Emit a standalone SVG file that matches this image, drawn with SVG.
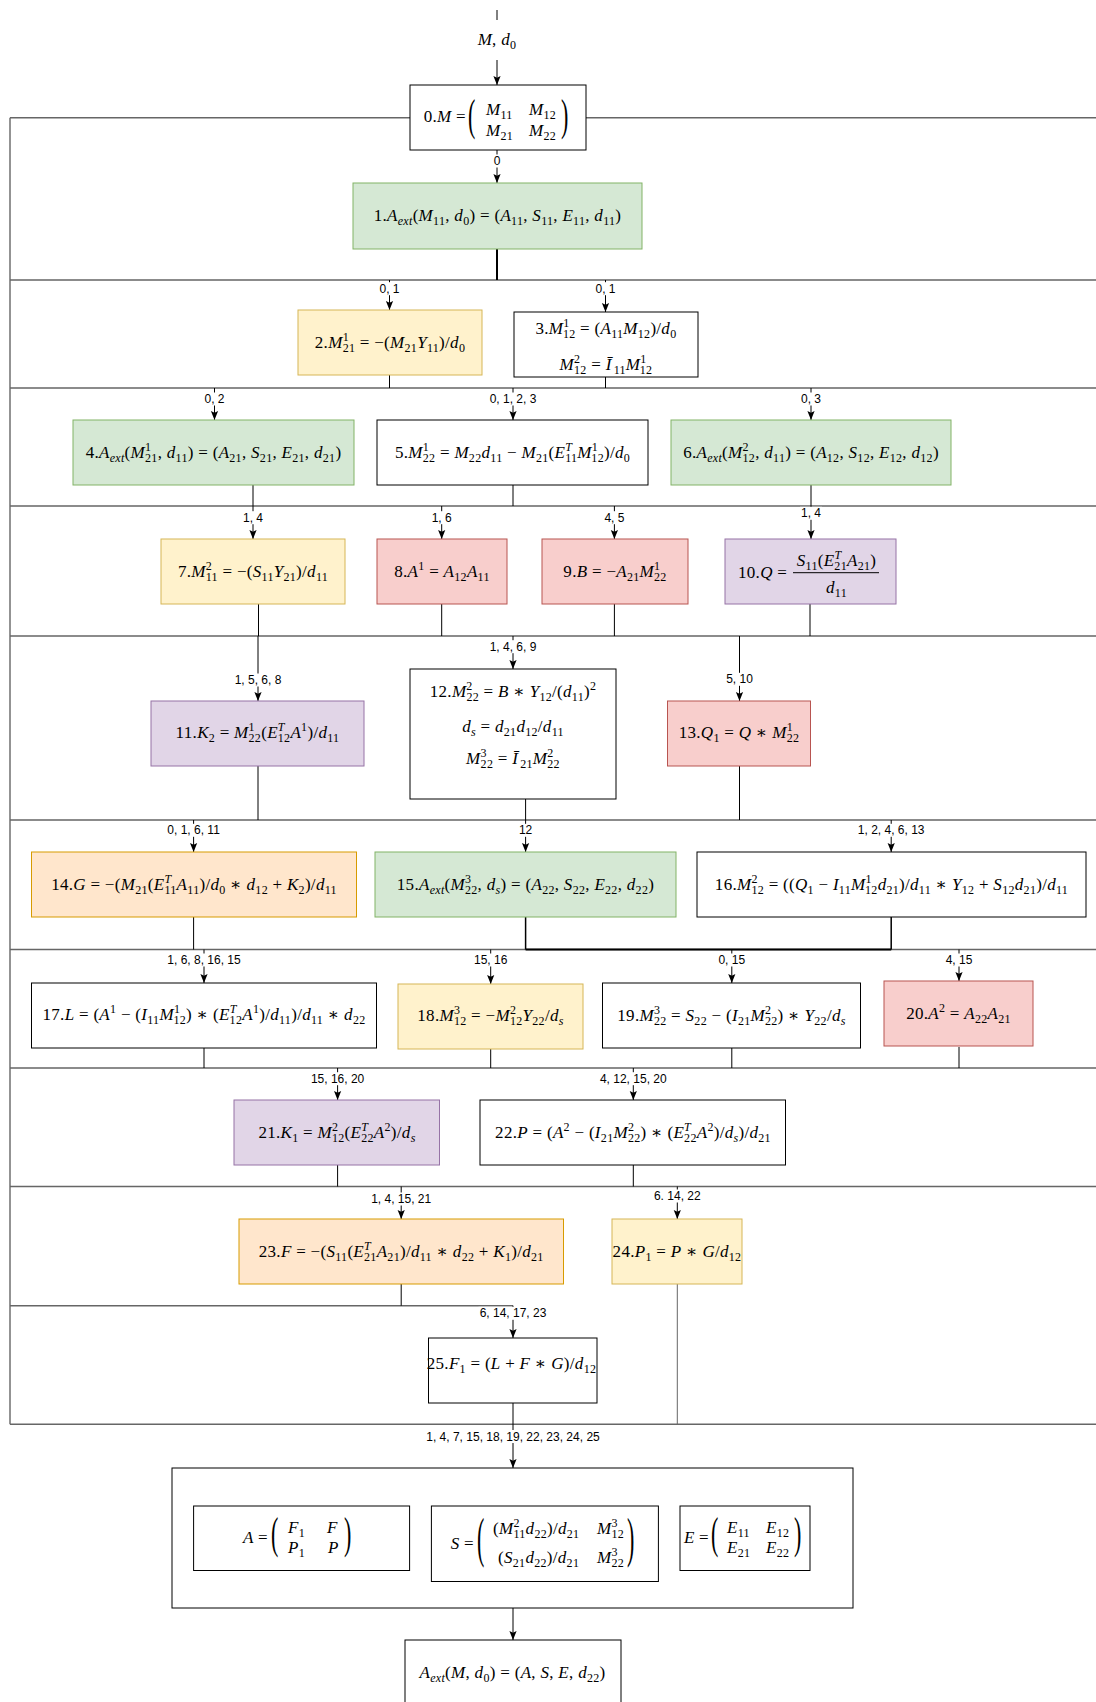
<svg xmlns="http://www.w3.org/2000/svg" width="1096" height="1702" viewBox="0 0 1096 1702">
<defs>
<style>
.m{font-family:"Liberation Serif","DejaVu Serif",serif;font-size:17px;text-anchor:middle;fill:#000;letter-spacing:0.3px}
.st{text-anchor:start}
.en{text-anchor:end}
.v{font-style:italic}
.s{font-size:12px;baseline-shift:-4px}
.p{font-size:12px;baseline-shift:7px}
.bp{font-family:"Liberation Serif",serif;font-size:22px;fill:#000}
.l{font-family:"Liberation Sans",Arial,sans-serif;font-size:12px;text-anchor:middle;fill:#000}
.lb{fill:#fff;stroke:none}
.row{fill:none;stroke:#666;stroke-width:1.4}
.c{fill:none;stroke:#000;stroke-width:1}
.ca{fill:none;stroke:#000;stroke-width:1;marker-end:url(#ah)}
.w{fill:#fff;stroke:#000}
.g{fill:#d5e8d4;stroke:#82b366}
.y{fill:#fff2cc;stroke:#d6b656}
.r{fill:#f8cecc;stroke:#b85450}
.pu{fill:#e1d5e7;stroke:#9673a6}
.o{fill:#ffe6cc;stroke:#d79b00}
</style>
<marker id="ah" viewBox="0 0 10 10" refX="10" refY="5" markerWidth="9" markerHeight="9" orient="auto" markerUnits="userSpaceOnUse">
<path d="M0,1 L10,5 L0,9 L2,5 z" fill="#000"/>
</marker>
</defs>
<rect width="1096" height="1702" fill="#fff"/>

<g id="rows" class="row">
<path d="M10,117.7 H1100 M10,117.7 V1424.3 M10,280 H1100 M10,388 H1100 M10,506 H1100 M10,636 H1100 M10,820 H1100 M10,949.5 H1100 M10,1068 H1100 M10,1186.5 H1100 M10,1305.7 H513 M10,1424.3 H1100"/>
</g>

<g id="connectors">
<path class="c" d="M497,10 V20 M389.5,375 V388 M605.5,377 V388 M253,485 V506 M513,485 V506 M811,485 V506 M258.5,604 V636 M441.7,604 V636 M614.4,604 V636 M810,604 V636 M258,766 V820 M525.6,798 V820 M739.5,766 V820 M193.6,917 V949.5 M204,1048 V1068 M490.7,1049 V1068 M731.8,1048 V1068 M959,1047 V1068 M337.6,1165 V1186.5 M633.3,1165 V1186.5 M401.2,1284 V1305.7"/>
<path class="c" style="stroke-width:2" d="M497,249 V280 M525.6,949.5 H891.2"/>
<path class="c" style="stroke-width:1.5" d="M525.6,917 V949.5 M891.2,917 V949.5"/>
<path class="c" style="stroke:#666" d="M677.3,1284 V1424.3"/>
<path class="ca" d="M497,60 V85"/>
<path class="ca" d="M497,150 V183"/>
<path class="ca" d="M389.5,280 V310"/>
<path class="ca" d="M605.5,280 V312"/>
<path class="ca" d="M214.5,388 V420"/>
<path class="ca" d="M513,388 V420"/>
<path class="ca" d="M811,388 V420"/>
<path class="ca" d="M253,506 V539"/>
<path class="ca" d="M441.7,506 V539"/>
<path class="ca" d="M614.4,506 V539"/>
<path class="ca" d="M811,506 V539"/>
<path class="ca" d="M258,636 V701"/>
<path class="ca" d="M513,636 V669"/>
<path class="ca" d="M739.5,636 V701"/>
<path class="ca" d="M193.6,820 V852"/>
<path class="ca" d="M525.6,820 V852"/>
<path class="ca" d="M891.2,820 V852"/>
<path class="ca" d="M204,949.5 V983"/>
<path class="ca" d="M490.7,949.5 V984"/>
<path class="ca" d="M731.8,949.5 V983"/>
<path class="ca" d="M959,949.5 V981"/>
<path class="ca" d="M337.6,1068 V1100"/>
<path class="ca" d="M633.3,1068 V1100"/>
<path class="ca" d="M401.2,1186.5 V1219"/>
<path class="ca" d="M677.3,1186.5 V1219"/>
<path class="ca" d="M513,1305.7 V1338"/>
<path class="ca" d="M513,1403 V1468"/>
<path class="ca" d="M513,1608 V1640"/>
</g>

<g id="edge-labels">
<text class="m" x="497" y="45"><tspan class="v">M</tspan>, <tspan class="v">d</tspan><tspan class="s">0</tspan></text>
<rect class="lb" x="492.5" y="154.5" width="9" height="13"/><text class="l" x="497" y="165">0</text>
<rect class="lb" x="378.5" y="282.2" width="22" height="13"/><text class="l" x="389.5" y="292.7">0, 1</text>
<rect class="lb" x="594.5" y="282.2" width="22" height="13"/><text class="l" x="605.5" y="292.7">0, 1</text>
<rect class="lb" x="203.5" y="392.5" width="22" height="13"/><text class="l" x="214.5" y="403">0, 2</text>
<rect class="lb" x="488.5" y="392.5" width="49" height="13"/><text class="l" x="513" y="403">0, 1, 2, 3</text>
<rect class="lb" x="800" y="392.5" width="22" height="13"/><text class="l" x="811" y="403">0, 3</text>
<rect class="lb" x="242" y="511.2" width="22" height="13"/><text class="l" x="253" y="521.7">1, 4</text>
<rect class="lb" x="430.7" y="511.2" width="22" height="13"/><text class="l" x="441.7" y="521.7">1, 6</text>
<rect class="lb" x="603.4" y="511.2" width="22" height="13"/><text class="l" x="614.4" y="521.7">4, 5</text>
<rect class="lb" x="800" y="506.8" width="22" height="13"/><text class="l" x="811" y="517.3">1, 4</text>
<rect class="lb" x="233.5" y="673.5" width="49" height="13"/><text class="l" x="258" y="684">1, 5, 6, 8</text>
<rect class="lb" x="488.5" y="640.2" width="49" height="13"/><text class="l" x="513" y="650.7">1, 4, 6, 9</text>
<rect class="lb" x="725" y="672.8" width="29" height="13"/><text class="l" x="739.5" y="683.3">5, 10</text>
<rect class="lb" x="165.6" y="823.8" width="56" height="13"/><text class="l" x="193.6" y="834.3">0, 1, 6, 11</text>
<rect class="lb" x="517.6" y="823.8" width="16" height="13"/><text class="l" x="525.6" y="834.3">12</text>
<rect class="lb" x="856.7" y="823.8" width="69" height="13"/><text class="l" x="891.2" y="834.3">1, 2, 4, 6, 13</text>
<rect class="lb" x="166" y="953.5" width="76" height="13"/><text class="l" x="204" y="964">1, 6, 8, 16, 15</text>
<rect class="lb" x="472.7" y="953.5" width="36" height="13"/><text class="l" x="490.7" y="964">15, 16</text>
<rect class="lb" x="717.3" y="953.5" width="29" height="13"/><text class="l" x="731.8" y="964">0, 15</text>
<rect class="lb" x="944.5" y="953.5" width="29" height="13"/><text class="l" x="959" y="964">4, 15</text>
<rect class="lb" x="309.6" y="1072.2" width="56" height="13"/><text class="l" x="337.6" y="1082.7">15, 16, 20</text>
<rect class="lb" x="598.8" y="1072.2" width="69" height="13"/><text class="l" x="633.3" y="1082.7">4, 12, 15, 20</text>
<rect class="lb" x="370.2" y="1192.5" width="62" height="13"/><text class="l" x="401.2" y="1203">1, 4, 15, 21</text>
<rect class="lb" x="652.8" y="1189.5" width="49" height="13"/><text class="l" x="677.3" y="1200">6. 14, 22</text>
<rect class="lb" x="478.5" y="1306.8" width="69" height="13"/><text class="l" x="513" y="1317.3">6, 14, 17, 23</text>
<rect class="lb" x="425" y="1430" width="176" height="13"/><text class="l" x="513" y="1440.5">1, 4, 7, 15, 18, 19, 22, 23, 24, 25</text>
</g>

<g id="n0">
<rect class="w" x="410" y="85" width="176" height="65"/>
<text class="m en" x="466" y="122">0.<tspan class="v">M</tspan> =</text>
<text class="bp" transform="translate(468,130.3) scale(1,2)">(</text>
<text class="m st" x="486" y="114.5"><tspan class="v">M</tspan><tspan class="s">11</tspan></text>
<text class="m st" x="529" y="114.5"><tspan class="v">M</tspan><tspan class="s">12</tspan></text>
<text class="m st" x="486" y="135.5"><tspan class="v">M</tspan><tspan class="s">21</tspan></text>
<text class="m st" x="529" y="135.5"><tspan class="v">M</tspan><tspan class="s">22</tspan></text>
<text class="bp" transform="translate(561,130.3) scale(1,2)">)</text>
</g>

<g id="n1">
<rect class="g" x="353" y="183" width="289" height="66"/>
<text class="m" x="497.5" y="221">1.<tspan class="v">A</tspan><tspan class="s v">ext</tspan>(<tspan class="v">M</tspan><tspan class="s">11</tspan>, <tspan class="v">d</tspan><tspan class="s">0</tspan>) = (<tspan class="v">A</tspan><tspan class="s">11</tspan>, <tspan class="v">S</tspan><tspan class="s">11</tspan>, <tspan class="v">E</tspan><tspan class="s">11</tspan>, <tspan class="v">d</tspan><tspan class="s">11</tspan>)</text>
</g>

<g id="n2">
<rect class="y" x="298" y="310" width="184" height="65"/>
<text class="m" x="390" y="347.5">2.<tspan class="v">M</tspan><tspan class="p">1</tspan><tspan class="s" dx="-6.3">21</tspan> = −(<tspan class="v">M</tspan><tspan class="s">21</tspan><tspan class="v">Y</tspan><tspan class="s">11</tspan>)/<tspan class="v">d</tspan><tspan class="s">0</tspan></text>
</g>

<g id="n3">
<rect class="w" x="514" y="312" width="184" height="65"/>
<text class="m" x="606" y="333.5">3.<tspan class="v">M</tspan><tspan class="p">1</tspan><tspan class="s" dx="-6.3">12</tspan> = (<tspan class="v">A</tspan><tspan class="s">11</tspan><tspan class="v">M</tspan><tspan class="s">12</tspan>)/<tspan class="v">d</tspan><tspan class="s">0</tspan></text>
<text class="m" x="606" y="370"><tspan class="v">M</tspan><tspan class="p">2</tspan><tspan class="s" dx="-6.3">12</tspan> = <tspan class="v">Ī</tspan><tspan class="s" dx="2">11</tspan><tspan class="v">M</tspan><tspan class="p">1</tspan><tspan class="s" dx="-6.3">12</tspan></text>
</g>

<g id="n4">
<rect class="g" x="73" y="420" width="281" height="65"/>
<text class="m" x="213.5" y="457.7">4.<tspan class="v">A</tspan><tspan class="s v">ext</tspan>(<tspan class="v">M</tspan><tspan class="p">1</tspan><tspan class="s" dx="-6.3">21</tspan>, <tspan class="v">d</tspan><tspan class="s">11</tspan>) = (<tspan class="v">A</tspan><tspan class="s">21</tspan>, <tspan class="v">S</tspan><tspan class="s">21</tspan>, <tspan class="v">E</tspan><tspan class="s">21</tspan>, <tspan class="v">d</tspan><tspan class="s">21</tspan>)</text>
</g>

<g id="n5">
<rect class="w" x="377" y="420" width="271" height="65"/>
<text class="m" x="512.5" y="457.7">5.<tspan class="v">M</tspan><tspan class="p">1</tspan><tspan class="s" dx="-6.3">22</tspan> = <tspan class="v">M</tspan><tspan class="s">22</tspan><tspan class="v">d</tspan><tspan class="s">11</tspan> − <tspan class="v">M</tspan><tspan class="s">21</tspan>(<tspan class="v">E</tspan><tspan class="p v">T</tspan><tspan class="s" dx="-7">11</tspan><tspan class="v">M</tspan><tspan class="p">1</tspan><tspan class="s" dx="-6.3">12</tspan>)/<tspan class="v">d</tspan><tspan class="s">0</tspan></text>
</g>

<g id="n6">
<rect class="g" x="671" y="420" width="280" height="65"/>
<text class="m" x="811" y="457.7">6.<tspan class="v">A</tspan><tspan class="s v">ext</tspan>(<tspan class="v">M</tspan><tspan class="p">2</tspan><tspan class="s" dx="-6.3">12</tspan>, <tspan class="v">d</tspan><tspan class="s">11</tspan>) = (<tspan class="v">A</tspan><tspan class="s">12</tspan>, <tspan class="v">S</tspan><tspan class="s">12</tspan>, <tspan class="v">E</tspan><tspan class="s">12</tspan>, <tspan class="v">d</tspan><tspan class="s">12</tspan>)</text>
</g>

<g id="n7">
<rect class="y" x="161" y="539" width="184" height="65"/>
<text class="m" x="253" y="576.7">7.<tspan class="v">M</tspan><tspan class="p">2</tspan><tspan class="s" dx="-6.3">11</tspan> = −(<tspan class="v">S</tspan><tspan class="s">11</tspan><tspan class="v">Y</tspan><tspan class="s">21</tspan>)/<tspan class="v">d</tspan><tspan class="s">11</tspan></text>
</g>

<g id="n8">
<rect class="r" x="377" y="539" width="130" height="65"/>
<text class="m" x="442" y="576.7">8.<tspan class="v">A</tspan><tspan class="p">1</tspan> = <tspan class="v">A</tspan><tspan class="s">12</tspan><tspan class="v">A</tspan><tspan class="s">11</tspan></text>
</g>

<g id="n9">
<rect class="r" x="542" y="539" width="146" height="65"/>
<text class="m" x="615" y="576.7">9.<tspan class="v">B</tspan> = −<tspan class="v">A</tspan><tspan class="s">21</tspan><tspan class="v">M</tspan><tspan class="p">1</tspan><tspan class="s" dx="-6.3">22</tspan></text>
</g>

<g id="n10">
<rect class="pu" x="725" y="539" width="171" height="65"/>
<text class="m st" x="738" y="578.3">10.<tspan class="v">Q</tspan> =</text>
<text class="m" x="836.5" y="566"><tspan class="v">S</tspan><tspan class="s">11</tspan>(<tspan class="v">E</tspan><tspan class="p v">T</tspan><tspan class="s" dx="-7">21</tspan><tspan class="v">A</tspan><tspan class="s">21</tspan>)</text>
<path d="M793,572.7 H879" stroke="#000" stroke-width="1"/>
<text class="m" x="836.5" y="592.5"><tspan class="v">d</tspan><tspan class="s">11</tspan></text>
</g>

<g id="n11">
<rect class="pu" x="151" y="701" width="213" height="65"/>
<text class="m" x="257.5" y="738">11.<tspan class="v">K</tspan><tspan class="s">2</tspan> = <tspan class="v">M</tspan><tspan class="p">1</tspan><tspan class="s" dx="-6.3">22</tspan>(<tspan class="v">E</tspan><tspan class="p v">T</tspan><tspan class="s" dx="-7">12</tspan><tspan class="v">A</tspan><tspan class="p">1</tspan>)/<tspan class="v">d</tspan><tspan class="s">11</tspan></text>
</g>

<g id="n12">
<rect class="w" x="410" y="669" width="206" height="130"/>
<text class="m" x="513" y="697">12.<tspan class="v">M</tspan><tspan class="p">2</tspan><tspan class="s" dx="-6.3">22</tspan> = <tspan class="v">B</tspan> ∗ <tspan class="v">Y</tspan><tspan class="s">12</tspan>/(<tspan class="v">d</tspan><tspan class="s">11</tspan>)<tspan class="p">2</tspan></text>
<text class="m" x="513" y="732"><tspan class="v">d</tspan><tspan class="s v">s</tspan> = <tspan class="v">d</tspan><tspan class="s">21</tspan><tspan class="v">d</tspan><tspan class="s">12</tspan>/<tspan class="v">d</tspan><tspan class="s">11</tspan></text>
<text class="m" x="513" y="763.5"><tspan class="v">M</tspan><tspan class="p">3</tspan><tspan class="s" dx="-6.3">22</tspan> = <tspan class="v">Ī</tspan><tspan class="s" dx="2">21</tspan><tspan class="v">M</tspan><tspan class="p">2</tspan><tspan class="s" dx="-6.3">22</tspan></text>
</g>

<g id="n13">
<rect class="r" x="667.5" y="701" width="143" height="65"/>
<text class="m" x="739" y="738">13.<tspan class="v">Q</tspan><tspan class="s">1</tspan> = <tspan class="v">Q</tspan> ∗ <tspan class="v">M</tspan><tspan class="p">1</tspan><tspan class="s" dx="-6.3">22</tspan></text>
</g>

<g id="n14">
<rect class="o" x="31.5" y="852" width="325" height="65"/>
<text class="m" x="194" y="889.7">14.<tspan class="v">G</tspan> = −(<tspan class="v">M</tspan><tspan class="s">21</tspan>(<tspan class="v">E</tspan><tspan class="p v">T</tspan><tspan class="s" dx="-7">11</tspan><tspan class="v">A</tspan><tspan class="s">11</tspan>)/<tspan class="v">d</tspan><tspan class="s">0</tspan> ∗ <tspan class="v">d</tspan><tspan class="s">12</tspan> + <tspan class="v">K</tspan><tspan class="s">2</tspan>)/<tspan class="v">d</tspan><tspan class="s">11</tspan></text>
</g>

<g id="n15">
<rect class="g" x="375" y="852" width="301" height="65"/>
<text class="m" x="525.5" y="889.7">15.<tspan class="v">A</tspan><tspan class="s v">ext</tspan>(<tspan class="v">M</tspan><tspan class="p">3</tspan><tspan class="s" dx="-6.3">22</tspan>, <tspan class="v">d</tspan><tspan class="s v">s</tspan>) = (<tspan class="v">A</tspan><tspan class="s">22</tspan>, <tspan class="v">S</tspan><tspan class="s">22</tspan>, <tspan class="v">E</tspan><tspan class="s">22</tspan>, <tspan class="v">d</tspan><tspan class="s">22</tspan>)</text>
</g>

<g id="n16">
<rect class="w" x="697" y="852" width="389" height="65"/>
<text class="m" x="891.5" y="889.7">16.<tspan class="v">M</tspan><tspan class="p">2</tspan><tspan class="s" dx="-6.3">12</tspan> = ((<tspan class="v">Q</tspan><tspan class="s">1</tspan> − <tspan class="v">I</tspan><tspan class="s">11</tspan><tspan class="v">M</tspan><tspan class="p">1</tspan><tspan class="s" dx="-6.3">12</tspan><tspan class="v">d</tspan><tspan class="s">21</tspan>)/<tspan class="v">d</tspan><tspan class="s">11</tspan> ∗ <tspan class="v">Y</tspan><tspan class="s">12</tspan> + <tspan class="v">S</tspan><tspan class="s">12</tspan><tspan class="v">d</tspan><tspan class="s">21</tspan>)/<tspan class="v">d</tspan><tspan class="s">11</tspan></text>
</g>

<g id="n17">
<rect class="w" x="31.5" y="983" width="345" height="65"/>
<text class="m" x="204" y="1020">17.<tspan class="v">L</tspan> = (<tspan class="v">A</tspan><tspan class="p">1</tspan> − (<tspan class="v">I</tspan><tspan class="s">11</tspan><tspan class="v">M</tspan><tspan class="p">1</tspan><tspan class="s" dx="-6.3">12</tspan>) ∗ (<tspan class="v">E</tspan><tspan class="p v">T</tspan><tspan class="s" dx="-7">12</tspan><tspan class="v">A</tspan><tspan class="p">1</tspan>)/<tspan class="v">d</tspan><tspan class="s">11</tspan>)/<tspan class="v">d</tspan><tspan class="s">11</tspan> ∗ <tspan class="v">d</tspan><tspan class="s">22</tspan></text>
</g>

<g id="n18">
<rect class="y" x="398" y="984" width="185" height="65"/>
<text class="m" x="490.5" y="1021">18.<tspan class="v">M</tspan><tspan class="p">3</tspan><tspan class="s" dx="-6.3">12</tspan> = −<tspan class="v">M</tspan><tspan class="p">2</tspan><tspan class="s" dx="-6.3">12</tspan><tspan class="v">Y</tspan><tspan class="s">22</tspan>/<tspan class="v">d</tspan><tspan class="s v">s</tspan></text>
</g>

<g id="n19">
<rect class="w" x="602.5" y="983" width="258" height="65"/>
<text class="m" x="731.5" y="1020.5">19.<tspan class="v">M</tspan><tspan class="p">3</tspan><tspan class="s" dx="-6.3">22</tspan> = <tspan class="v">S</tspan><tspan class="s">22</tspan> − (<tspan class="v">I</tspan><tspan class="s">21</tspan><tspan class="v">M</tspan><tspan class="p">2</tspan><tspan class="s" dx="-6.3">22</tspan>) ∗ <tspan class="v">Y</tspan><tspan class="s">22</tspan>/<tspan class="v">d</tspan><tspan class="s v">s</tspan></text>
</g>

<g id="n20">
<rect class="r" x="884" y="981" width="149" height="65"/>
<text class="m" x="958.5" y="1019">20.<tspan class="v">A</tspan><tspan class="p">2</tspan> = <tspan class="v">A</tspan><tspan class="s">22</tspan><tspan class="v">A</tspan><tspan class="s">21</tspan></text>
</g>

<g id="n21">
<rect class="pu" x="234" y="1100" width="205.5" height="65"/>
<text class="m" x="337" y="1137.8">21.<tspan class="v">K</tspan><tspan class="s">1</tspan> = <tspan class="v">M</tspan><tspan class="p">2</tspan><tspan class="s" dx="-6.3">12</tspan>(<tspan class="v">E</tspan><tspan class="p v">T</tspan><tspan class="s" dx="-7">22</tspan><tspan class="v">A</tspan><tspan class="p">2</tspan>)/<tspan class="v">d</tspan><tspan class="s v">s</tspan></text>
</g>

<g id="n22">
<rect class="w" x="480" y="1100" width="305.5" height="65"/>
<text class="m" x="633" y="1137.8">22.<tspan class="v">P</tspan> = (<tspan class="v">A</tspan><tspan class="p">2</tspan> − (<tspan class="v">I</tspan><tspan class="s">21</tspan><tspan class="v">M</tspan><tspan class="p">2</tspan><tspan class="s" dx="-6.3">22</tspan>) ∗ (<tspan class="v">E</tspan><tspan class="p v">T</tspan><tspan class="s" dx="-7">22</tspan><tspan class="v">A</tspan><tspan class="p">2</tspan>)/<tspan class="v">d</tspan><tspan class="s v">s</tspan>)/<tspan class="v">d</tspan><tspan class="s">21</tspan></text>
</g>

<g id="n23">
<rect class="o" x="239" y="1219" width="324.5" height="65"/>
<text class="m" x="401.2" y="1256.7">23.<tspan class="v">F</tspan> = −(<tspan class="v">S</tspan><tspan class="s">11</tspan>(<tspan class="v">E</tspan><tspan class="p v">T</tspan><tspan class="s" dx="-7">21</tspan><tspan class="v">A</tspan><tspan class="s">21</tspan>)/<tspan class="v">d</tspan><tspan class="s">11</tspan> ∗ <tspan class="v">d</tspan><tspan class="s">22</tspan> + <tspan class="v">K</tspan><tspan class="s">1</tspan>)/<tspan class="v">d</tspan><tspan class="s">21</tspan></text>
</g>

<g id="n24">
<rect class="y" x="612" y="1219" width="130" height="65"/>
<text class="m" x="677" y="1256.7">24.<tspan class="v">P</tspan><tspan class="s">1</tspan> = <tspan class="v">P</tspan> ∗ <tspan class="v">G</tspan>/<tspan class="v">d</tspan><tspan class="s">12</tspan></text>
</g>

<g id="n25">
<rect class="w" x="428.5" y="1338" width="168.5" height="65"/>
<text class="m" x="511.5" y="1369">25.<tspan class="v">F</tspan><tspan class="s">1</tspan> = (<tspan class="v">L</tspan> + <tspan class="v">F</tspan> ∗ <tspan class="v">G</tspan>)/<tspan class="v">d</tspan><tspan class="s">12</tspan></text>
</g>

<g id="result">
<rect class="w" x="172" y="1468" width="681" height="140"/>
<g id="nA">
<rect class="w" x="193.6" y="1506" width="216" height="64.5"/>
<text class="m en" x="268" y="1543"><tspan class="v">A</tspan> =</text>
<text class="bp" transform="translate(271,1548.3) scale(1,2)">(</text>
<text class="m st" x="288" y="1532.7"><tspan class="v">F</tspan><tspan class="s">1</tspan></text>
<text class="m st" x="327" y="1532.7"><tspan class="v">F</tspan></text>
<text class="m st" x="288" y="1553.3"><tspan class="v">P</tspan><tspan class="s">1</tspan></text>
<text class="m st" x="328" y="1553.3"><tspan class="v">P</tspan></text>
<text class="bp" transform="translate(344,1548.3) scale(1,2)">)</text>
</g>
<g id="nS">
<rect class="w" x="431.4" y="1506" width="227" height="75.5"/>
<text class="m en" x="474" y="1549"><tspan class="v">S</tspan> =</text>
<text class="bp" transform="translate(477,1556) scale(1,2.45)">(</text>
<text class="m st" x="493" y="1534">(<tspan class="v">M</tspan><tspan class="p">2</tspan><tspan class="s" dx="-6.3">11</tspan><tspan class="v">d</tspan><tspan class="s">22</tspan>)/<tspan class="v">d</tspan><tspan class="s">21</tspan></text>
<text class="m st" x="597" y="1534"><tspan class="v">M</tspan><tspan class="p">3</tspan><tspan class="s" dx="-6.3">12</tspan></text>
<text class="m st" x="498" y="1563">(<tspan class="v">S</tspan><tspan class="s">21</tspan><tspan class="v">d</tspan><tspan class="s">22</tspan>)/<tspan class="v">d</tspan><tspan class="s">21</tspan></text>
<text class="m st" x="597" y="1563"><tspan class="v">M</tspan><tspan class="p">3</tspan><tspan class="s" dx="-6.3">22</tspan></text>
<text class="bp" transform="translate(627,1556) scale(1,2.45)">)</text>
</g>
<g id="nE">
<rect class="w" x="680" y="1506" width="130" height="64.5"/>
<text class="m en" x="709" y="1543"><tspan class="v">E</tspan> =</text>
<text class="bp" transform="translate(711,1548.3) scale(1,2)">(</text>
<text class="m st" x="727" y="1532.7"><tspan class="v">E</tspan><tspan class="s">11</tspan></text>
<text class="m st" x="766" y="1532.7"><tspan class="v">E</tspan><tspan class="s">12</tspan></text>
<text class="m st" x="727" y="1553.3"><tspan class="v">E</tspan><tspan class="s">21</tspan></text>
<text class="m st" x="766" y="1553.3"><tspan class="v">E</tspan><tspan class="s">22</tspan></text>
<text class="bp" transform="translate(794,1548.3) scale(1,2)">)</text>
</g>
</g>

<g id="nFinal">
<rect class="w" x="405" y="1640" width="216" height="80"/>
<text class="m" x="512.5" y="1677.7"><tspan class="v">A</tspan><tspan class="s v">ext</tspan>(<tspan class="v">M</tspan>, <tspan class="v">d</tspan><tspan class="s">0</tspan>) = (<tspan class="v">A</tspan>, <tspan class="v">S</tspan>, <tspan class="v">E</tspan>, <tspan class="v">d</tspan><tspan class="s">22</tspan>)</text>
</g>
</svg>
